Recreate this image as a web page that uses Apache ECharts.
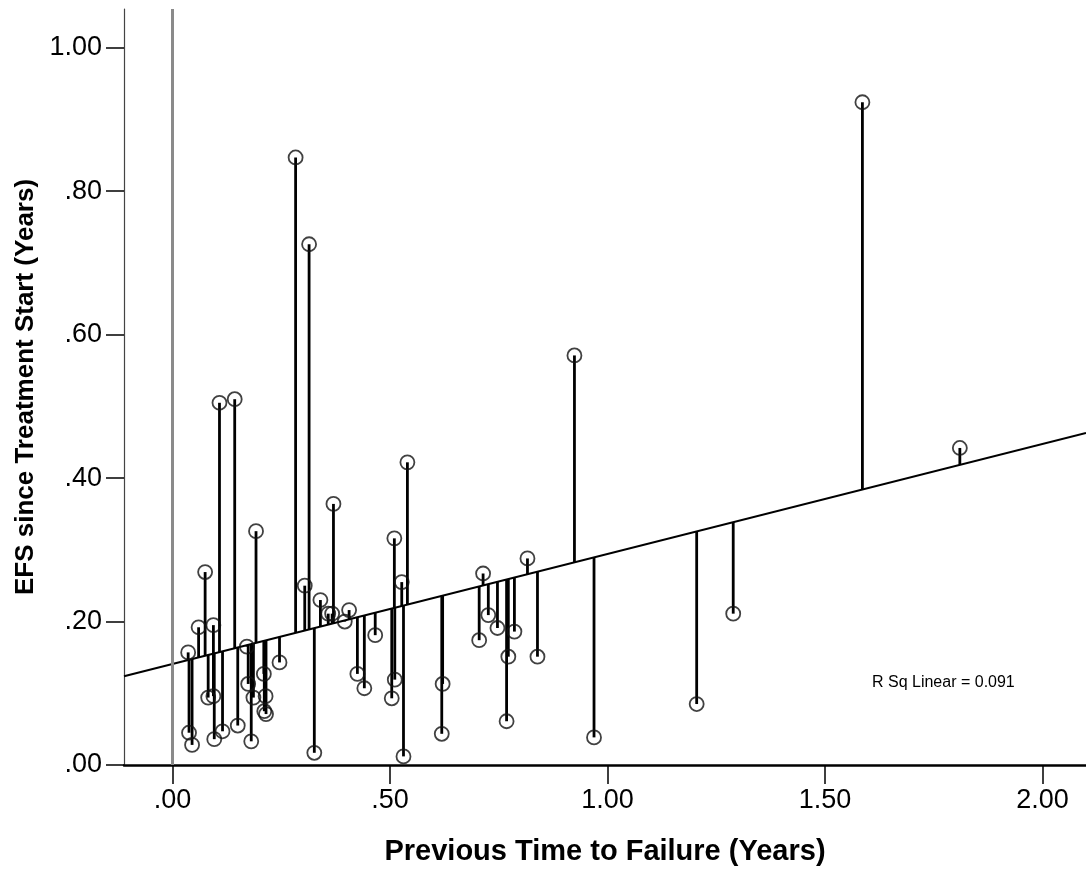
<!DOCTYPE html>
<html>
<head>
<meta charset="utf-8">
<script src="https://cdn.jsdelivr.net/npm/echarts@6/dist/echarts.min.js"></script>
<style>
html,body{margin:0;padding:0;background:#fff;}
#chart{width:1086px;height:871px;}
</style>
</head>
<body>
<div id="chart"></div>
<script>
// Previous time to failure (years)
const prevTTF = [0.036,0.038,0.045,0.060,0.075,0.082,0.094,0.094,0.096,0.108,0.115,0.143,0.150,0.171,0.174,0.181,0.186,0.192,0.210,0.214,0.211,0.215,0.246,0.283,0.304,0.314,0.326,0.340,0.358,0.367,0.370,0.396,0.406,0.425,0.441,0.466,0.504,0.510,0.511,0.527,0.531,0.540,0.619,0.621,0.705,0.714,0.726,0.747,0.768,0.772,0.786,0.816,0.839,0.924,0.969,1.205,1.289,1.586,1.810];
// EFS since treatment start (years)
const efs = [0.157,0.045,0.028,0.192,0.269,0.094,0.096,0.195,0.036,0.505,0.047,0.510,0.055,0.165,0.113,0.033,0.094,0.326,0.127,0.096,0.075,0.071,0.143,0.847,0.250,0.726,0.017,0.230,0.211,0.211,0.364,0.200,0.216,0.127,0.107,0.181,0.093,0.316,0.119,0.255,0.012,0.422,0.0435,0.113,0.174,0.267,0.209,0.191,0.061,0.151,0.186,0.288,0.151,0.571,0.0385,0.085,0.211,0.924,0.442];
// Linear fit (as drawn)
const fitIntercept = 0.1409;
const fitSlope = 0.1534;
const rSqText = 'R Sq Linear = 0.091';
const xTicks = [0, 0.5, 1.0, 1.5, 2.0];
const yTicks = [0, 0.2, 0.4, 0.6, 0.8, 1.0];
const xRange = [-0.1115, 2.100];
const yRange = [0, 1.054];

function fit(x){ return fitIntercept + fitSlope * x; }
function fmt(v){
  const s = v.toFixed(2);
  return s.startsWith('0.') ? s.substring(1) : s;
}

const points = prevTTF.map((x,i)=>[x, efs[i]]);
const drops = prevTTF.map((x,i)=>[x, efs[i], fit(x)]);
const fitLine = [[xRange[0], fit(xRange[0])],[xRange[1], fit(xRange[1])]];

const FONT = 'Liberation Sans, Arial, sans-serif';
const chart = echarts.init(document.getElementById('chart'), null, {renderer:'canvas'});
chart.setOption({
  animation:false,
  backgroundColor:'#ffffff',
  grid:{left:124, right:0, top:9, bottom:104, containLabel:false},
  xAxis:{
    type:'value', min:xRange[0], max:xRange[1],
    axisLine:{onZero:false, lineStyle:{color:'#000', width:2.5}},
    axisTick:{show:true, customValues:xTicks, length:19, lineStyle:{color:'#000', width:1.5}},
    axisLabel:{customValues:xTicks, formatter:fmt, fontSize:27, color:'#000', fontFamily:FONT, margin:22},
    splitLine:{show:false},
    name:'Previous Time to Failure (Years)', nameLocation:'middle', nameGap:72,
    nameTextStyle:{fontSize:29, fontWeight:'bold', color:'#000', fontFamily:FONT}
  },
  yAxis:{
    type:'value', min:yRange[0], max:yRange[1],
    axisLine:{onZero:false, lineStyle:{color:'#444', width:1.2}},
    axisTick:{show:true, customValues:yTicks, length:18, lineStyle:{color:'#000', width:1.5}},
    axisLabel:{customValues:yTicks, formatter:fmt, fontSize:27, color:'#000', fontFamily:FONT, margin:22},
    splitLine:{show:false},
    name:'EFS since Treatment Start (Years)', nameLocation:'middle', nameGap:80,
    nameTextStyle:{fontSize:26, fontWeight:'bold', color:'#000', fontFamily:FONT}
  },
  series:[
    {
      type:'line', data:fitLine, symbol:'none', silent:true, z:2,
      lineStyle:{color:'#000', width:2},
      markLine:{silent:true, symbol:['none','none'], label:{show:false},
        lineStyle:{color:'#8a8a8a', width:3, type:'solid'},
        data:[{xAxis:0}]}
    },
    {
      type:'custom', data:drops, z:3, silent:true,
      renderItem:function(params, api){
        const x = api.value(0), y = api.value(1), f = api.value(2);
        const p1 = api.coord([x,y]);
        const p2 = api.coord([x,f]);
        return {type:'line', shape:{x1:p1[0], y1:p1[1], x2:p2[0], y2:p2[1]},
          style:{stroke:'#000', lineWidth:2.8}};
      }
    },
    {
      type:'scatter', data:points, z:4, symbol:'circle', symbolSize:14,
      itemStyle:{color:'rgba(0,0,0,0)', borderColor:'#111', borderWidth:1.8}
    }
  ],
  graphic:[{
    type:'text', left:872, top:675,
    style:{text:rSqText, fontSize:16, fill:'#000', fontFamily:FONT}
  }]
});
</script>
</body>
</html>
